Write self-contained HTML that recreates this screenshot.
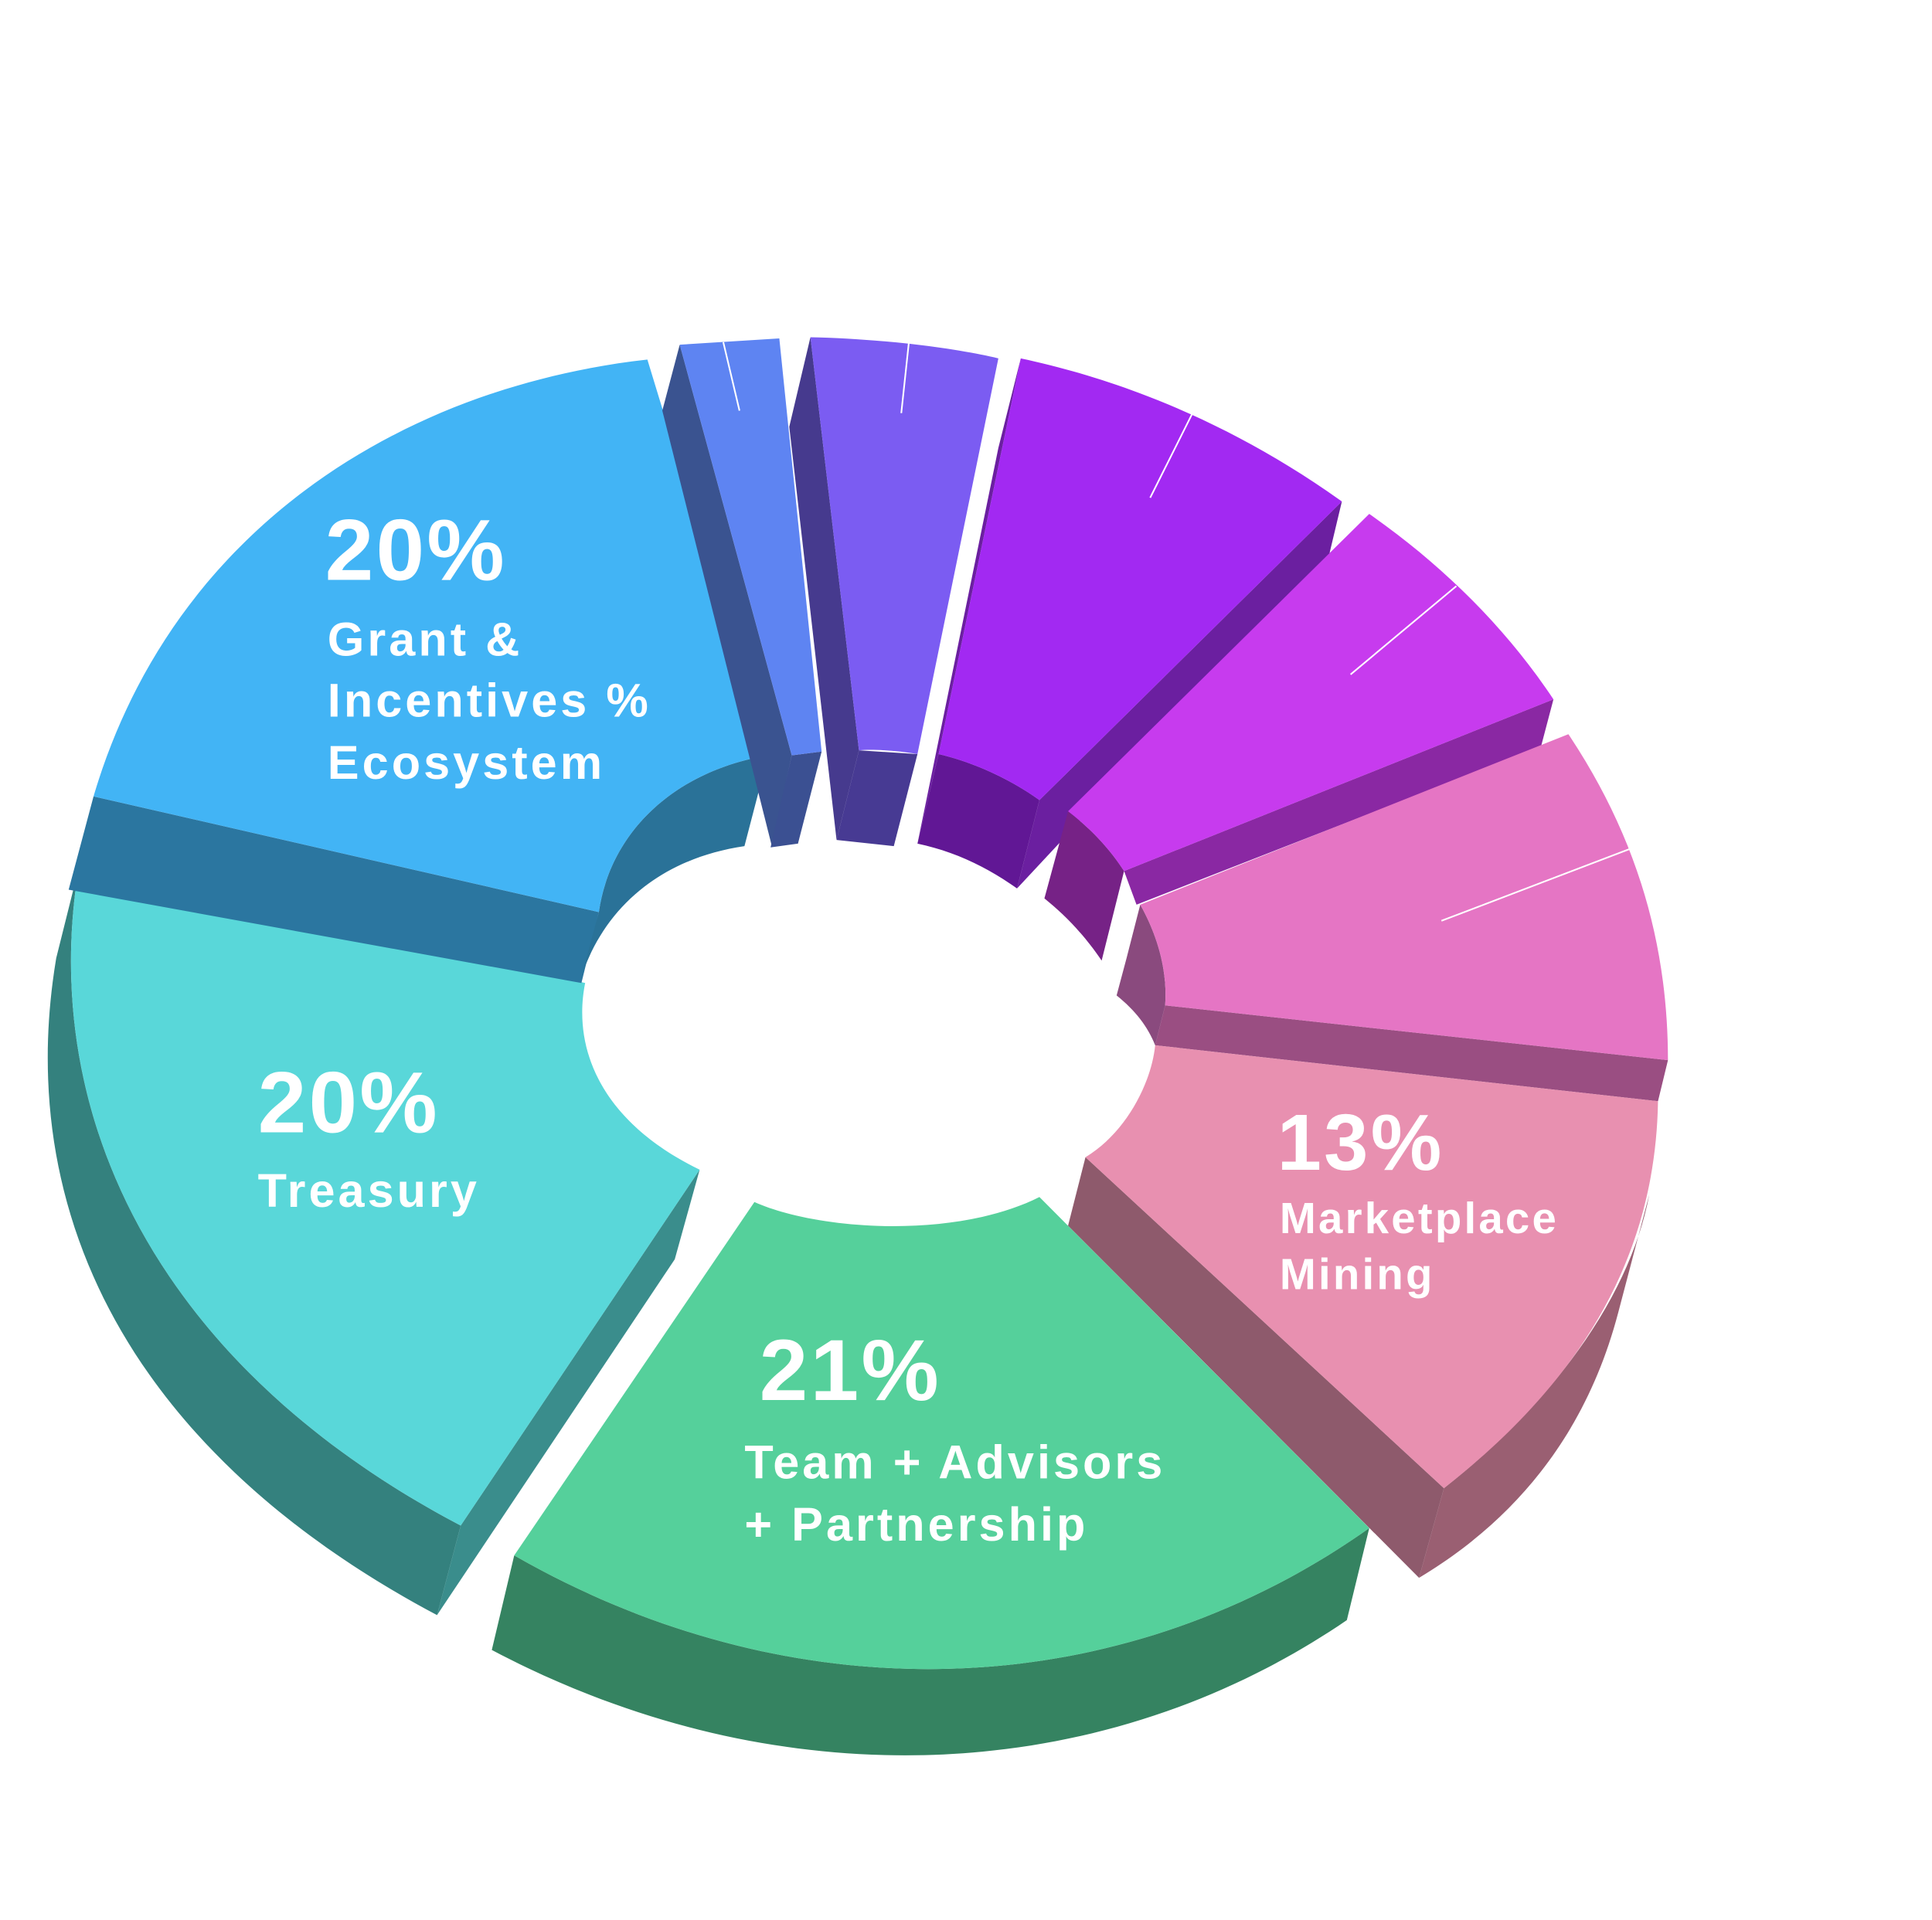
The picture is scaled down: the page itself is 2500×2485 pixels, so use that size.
<!DOCTYPE html>
<html><head><meta charset="utf-8"><style>
html,body{margin:0;padding:0;background:#fff;width:2500px;height:2485px;overflow:hidden}
svg{display:block}
text{font-family:"Liberation Sans",sans-serif;font-weight:bold;fill:#fff}
</style></head><body>
<svg width="2500" height="2485" viewBox="0 0 1552 1543" xmlns="http://www.w3.org/2000/svg">
<path d="M63,698 C30,900 130,1100 370,1226 L351,1298 C110,1170 10,980 45,770 Z" fill="#34817E"/>
<path d="M562,940 L542,1012 L351,1298 L370,1226 Z" fill="#3A8D8C"/>
<path d="M63,698 L470,790 C460,840 480,900 562,940 L370,1226 C130,1100 30,900 63,698 Z" fill="#59D7D9"/>
<path d="M55,715 L75,640 L481,733 L467,790 Z" fill="#2B76A0"/>
<path d="M481,733 C490,670 540,620 617,607 L598,680 C530,690 485,730 467,785 Z" fill="#2A7298"/>
<path d="M75,640 C140,420 330,310 520,289 L617,607 C540,620 490,670 481,733 Z" fill="#42B4F5"/>
<path d="M546,277 L532,330 L620,680 L636,607 Z" fill="#3A5390"/>
<path d="M636,607 L660,604 L641,678 L619,681 Z" fill="#3B5092"/>
<path d="M546,277 L626,272 L660,604 L636,607 Z" fill="#5E84F2"/>
<path d="M651,271 L634,343 L672,675 L690,603 Z" fill="#463A8E"/>
<path d="M690,603 L737,606 L718,680 L672,675 Z" fill="#473A93"/>
<path d="M651,271 C700,272 760,278 802,288 L737,606 C720,603 700,602 690,603 Z" fill="#7B5CF2"/>
<path d="M820,288 L802,360 L737,678 L754,606 Z" fill="#6B1FA0"/>
<path d="M754,606 C780,612 810,625 835,643 L817,714 C790,695 765,684 737,678 Z" fill="#611795"/>
<path d="M1078,403 L1068,445 L817,714 L835,643 Z" fill="#6B1FA0"/>
<path d="M820,288 C900,305 990,340 1078,403 L835,643 C810,625 780,612 754,606 Z" fill="#A229F2"/>
<path d="M1248,562 L1238,600 L913,727 L903,700 Z" fill="#8A28A3"/>
<path d="M858,652 C875,665 890,680 903,700 L885,772 C870,750 855,735 839,722 Z" fill="#762286"/>
<path d="M1100,413 C1160,455 1210,505 1248,562 L903,700 C890,680 875,665 858,652 Z" fill="#C73BEE"/>
<path d="M936,808 L1340,852 L1332,885 L928,840 Z" fill="#9A4E82"/>
<path d="M916,727 C930,752 938,780 936,808 L928,840 C922,825 912,812 897,800 L905,770 Z" fill="#8A4A7E"/>
<path d="M1260,590 C1310,665 1340,750 1340,852 L936,808 C938,780 930,752 916,727 Z" fill="#E575C4"/>
<path d="M872,930 L858,985 L1140,1268 L1160,1196 Z" fill="#8E5A6C"/>
<path d="M1160,1196 C1250,1125 1310,1040 1325,960 L1300,1055 C1275,1150 1220,1220 1140,1268 Z" fill="#9A5F72"/>
<path d="M928,840 L1332,885 C1330,1010 1270,1110 1160,1196 L872,930 C905,910 925,870 928,840 Z" fill="#E890B0"/>
<path d="M413,1250 C640,1380 900,1370 1100,1228 L1082,1302 C880,1440 620,1445 395,1326 Z" fill="#358361"/>
<path d="M606,966 C660,990 770,995 835,962 L1100,1228 C900,1370 640,1380 413,1250 Z" fill="#55D09B"/>
<g stroke="#fff" stroke-width="1.3">
<line x1="581" y1="275" x2="594" y2="330"/>
<line x1="730" y1="276" x2="724" y2="332"/>
<line x1="958" y1="332" x2="924" y2="400"/>
<line x1="1170" y1="471" x2="1085" y2="542"/>
<line x1="1310" y1="682" x2="1158" y2="740"/>
</g>
<text x="261" y="466" font-size="70" letter-spacing="2">20%</text>
<text x="263" y="527" font-size="38" letter-spacing="2.5">Grant &amp;</text>
<text x="263" y="576" font-size="38" letter-spacing="2.5">Incentives %</text>
<text x="263" y="626" font-size="38" letter-spacing="2.5">Ecosystem</text>
<text x="207" y="910" font-size="70" letter-spacing="2">20%</text>
<text x="207" y="970" font-size="38" letter-spacing="2.5">Treasury</text>
<text x="1026" y="940" font-size="64" letter-spacing="2">13%</text>
<text x="1028" y="991" font-size="35" letter-spacing="2">Marketplace</text>
<text x="1028" y="1036" font-size="35" letter-spacing="2">Mining</text>
<text x="610" y="1125" font-size="70" letter-spacing="2">21%</text>
<text x="598" y="1188" font-size="38" letter-spacing="2.5">Team + Advisors</text>
<text x="598" y="1238" font-size="38" letter-spacing="2.5">+ Partnership</text>
</svg>
</body></html>
